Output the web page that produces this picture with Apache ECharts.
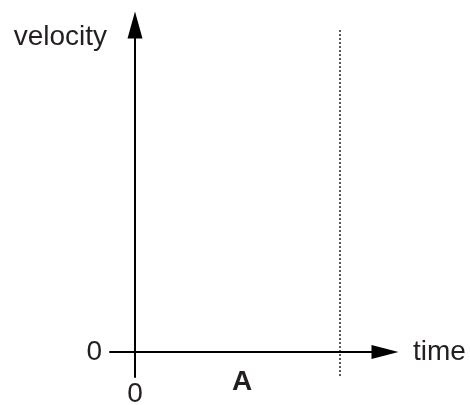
<!DOCTYPE html>
<html>
<head>
<meta charset="utf-8">
<script src="https://cdn.jsdelivr.net/npm/echarts@6/dist/echarts.min.js"></script>
<style>
  html, body { margin: 0; padding: 0; background: #fff; }
  #chart { width: 470px; height: 405px; }
</style>
</head>
<body>
<div id="chart"></div>
<script>
// axis ranges (arbitrary units, origin at 0)
const xRange = [-1, 10];
const yRange = [-1, 13.08];
// dotted marker line: x position, from top to bottom
const markerX = [8.2, 8.2];
const markerY = [12.88, -1.04];
// region label under the time axis
const regionLabels = ['A'];
const regionPos = [[4.28, -1.2]];

const ink = '#231f20';
const font = 'Liberation Sans';
const fs = 28;

const chart = echarts.init(document.getElementById('chart'));

chart.setOption({
  animation: false,
  grid: { left: 110, right: 85, top: 25, bottom: 28, containLabel: false, outerBoundsMode: 'none' },
  xAxis: {
    type: 'value',
    min: xRange[0],
    max: xRange[1],
    interval: 1,
    name: 'time',
    nameLocation: 'end',
    nameGap: 28,
    nameTextStyle: { color: ink, fontSize: fs, fontFamily: font, align: 'left', verticalAlign: 'middle' },
    axisLine: { onZero: true, symbol: ['none', 'triangle'], symbolSize: [14, 27], lineStyle: { color: '#000', width: 2 } },
    axisTick: { show: false },
    splitLine: { show: false },
    axisLabel: {
      margin: 17,
      verticalAlign: 'middle',
      color: ink, fontSize: fs, fontFamily: font,
      formatter: v => (v === 0 ? '0' : '')
    }
  },
  yAxis: {
    type: 'value',
    min: yRange[0],
    max: yRange[1],
    interval: 1,
    name: 'velocity',
    nameLocation: 'end',
    nameGap: -12,
    nameTextStyle: { color: ink, fontSize: fs, fontFamily: font, align: 'right', verticalAlign: 'middle', padding: [0, 28, 0, 0] },
    axisLine: { onZero: true, symbol: ['none', 'triangle'], symbolSize: [15, 27], lineStyle: { color: '#000', width: 2 } },
    axisTick: { show: false },
    splitLine: { show: false },
    axisLabel: {
      margin: 8,
      verticalAlign: 'middle',
      color: ink, fontSize: fs, fontFamily: font,
      formatter: v => (v === 0 ? '0' : '')
    }
  },
  series: [
    {
      type: 'line',
      data: [[markerX[0], markerY[0]], [markerX[1], markerY[1]]],
      symbol: 'none',
      clip: false,
      lineStyle: { color: '#000', width: 1.3, type: [2, 2] }
    },
    {
      type: 'scatter',
      clip: false,
      symbolSize: 1,
      itemStyle: { color: 'rgba(0,0,0,0)', opacity: 1 },
      data: regionPos.map((p, i) => ({ value: p, name: regionLabels[i] })),
      label: {
        show: true,
        position: 'inside',
        formatter: p => p.name,
        color: ink, fontSize: fs, fontWeight: 'bold', fontFamily: font
      }
    }
  ]
});
</script>
</body>
</html>
